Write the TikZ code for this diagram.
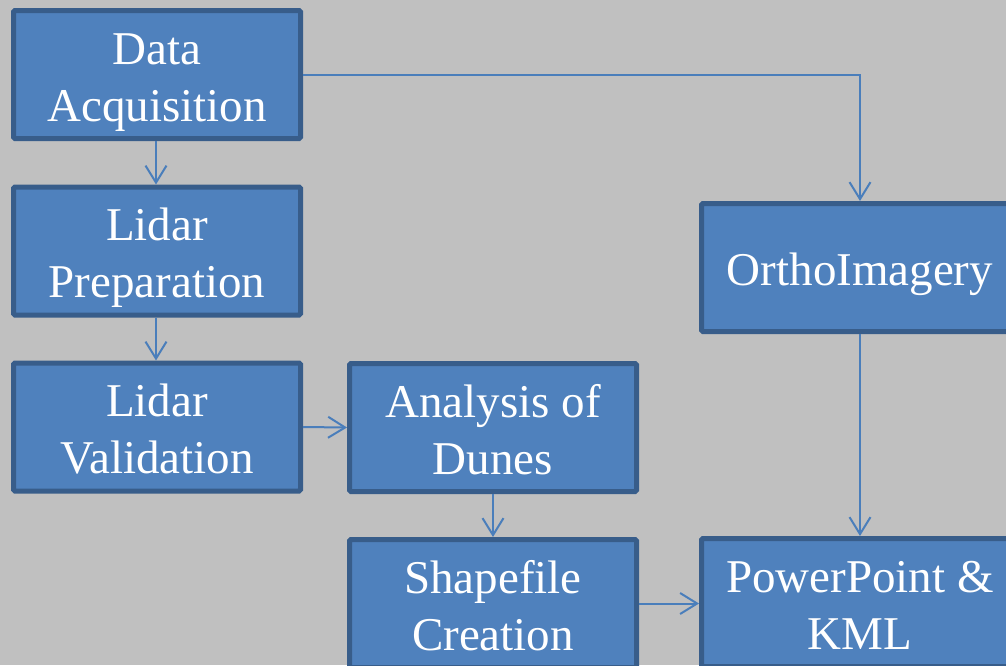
\documentclass[tikz,border=0pt]{standalone}
\usepackage{fontspec}
\newfontfamily\fa{Liberation Serif}
\usetikzlibrary{arrows.meta}
\definecolor{bgGray}{HTML}{C0C0C0}
\definecolor{boxFill}{HTML}{4F81BD}
\definecolor{boxLine}{HTML}{385D8A}
\definecolor{arrowBlue}{HTML}{4A7EBB}
\newcommand{\myTop}{\rule{0pt}{46pt}}
\newcommand{\myBot}{\rule[-10pt]{0pt}{10pt}}
\tikzset{
  flowbox/.style={rectangle, fill=boxFill, outer sep=2.5pt,
    minimum width=287pt, minimum height=128pt,
    inner sep=0pt, align=center, text=white,
    font=\fa\fontsize{47}{57}\selectfont},
  widebox/.style={flowbox, minimum width=317pt},
  boxedge/.style={draw=boxLine, line width=5pt, rounded corners=1.5pt},
  conn/.style={draw=arrowBlue, line width=2pt,
    -{Straight Barb[length=17pt,width=21pt,line width=2pt]}}
}
\begin{document}
\begin{tikzpicture}[x=1pt,y=-1pt]
\useasboundingbox (0,0) rectangle (1006,665);
\clip (0,0) rectangle (1006,665);
\fill[bgGray] (0,0) rectangle (1006,665);
\node[flowbox] (da) at (157,74.5) {\myTop Data\\Acquisition\myBot};
\node[flowbox] (lp) at (157,251) {\myTop Lidar\\Preparation\myBot};
\node[flowbox] (lv) at (157,427) {\myTop Lidar\\Validation\myBot};
\node[flowbox] (ad) at (493,427.5) {\myTop Analysis of\\Dunes\myBot};
\node[flowbox] (sc) at (493,603.5) {\myTop Shapefile\\Creation\myBot};
\node[widebox] (oi) at (860,267.5) {\myTop OrthoImagery\myBot};
\node[widebox] (pp) at (860,602.5) {\myTop PowerPoint \&\\KML\myBot};
\foreach \n in {da,lp,lv,ad,sc,oi,pp}
  \path[boxedge] ([xshift=2.5pt,yshift=2.5pt]\n.south west) rectangle ([xshift=-2.5pt,yshift=-2.5pt]\n.north east);
\draw[conn] (da.south -| 156,0) -- (lp.north -| 156,0);
\draw[conn] (lp.south -| 156,0) -- (lv.north -| 156,0);
\draw[conn] (lv.east) -- (ad.west);
\draw[conn] (ad.south) -- (sc.north);
\draw[conn] (sc.east) -- (sc.east -| pp.west);
\draw[conn] (da.east) -| (oi.north);
\draw[conn] (oi.south) -- (pp.north);
\end{tikzpicture}
\end{document}
